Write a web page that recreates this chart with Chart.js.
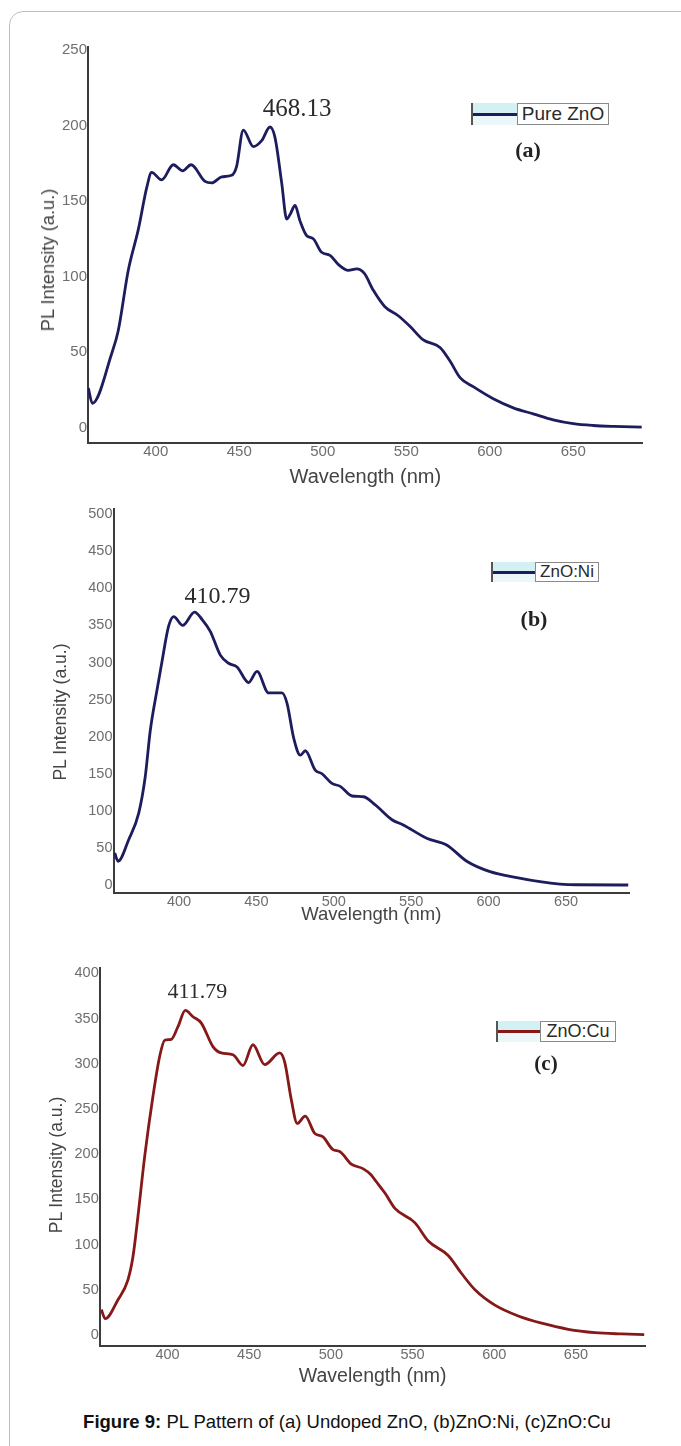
<!DOCTYPE html>
<html>
<head>
<meta http-equiv="Content-Type" content="text/html; charset=utf-8"/>
<title>PL Pattern of ZnO, ZnO:Ni, ZnO:Cu</title>
<script src="https://cdn.jsdelivr.net/npm/chart.js"></script>
<style>
	body { margin:0; width:681px; height:1446px; overflow:hidden; position:relative; background:#fff; font-family:"Liberation Sans", Arial, sans-serif; }
	#frame { position:absolute; left:9px; top:11px; width:740px; height:1500px; border:1px solid #bdbdbd; border-radius:14px; }
	canvas { position:absolute; left:0; }
	.legend { position:absolute; display:flex; }
	.legend .sample { position:relative; height:100%; box-sizing:border-box; border-left:2px solid #555; background:linear-gradient(#d3f0f3 0 46%, #ebf7f8 54% 100%); }
	.legend .sample i { position:absolute; left:0; right:0; top:50%; height:3px; margin-top:-1.5px; }
	.legend .box { height:100%; box-sizing:border-box; border:1px solid #8a8a8a; background:#fff; display:flex; align-items:center; justify-content:center; color:#2a2a2a; }
	.panel { position:absolute; transform:translate(-50%,-50%); font-family:"Liberation Serif", serif; font-weight:bold; color:#222; }
	.ytitle { position:absolute; transform:translate(-50%,-50%) rotate(-90deg); white-space:nowrap; color:#444; }
	#caption { position:absolute; left:347px; top:1422px; transform:translate(-50%,-50%); white-space:nowrap; font-size:18.5px; color:#111; }
</style>
</head>
<body>
	<div id="frame"></div>
	<canvas id="plA" width="681" height="495" style="top:0px"></canvas>
	<canvas id="plB" width="681" height="450" style="top:495px"></canvas>
	<canvas id="plC" width="681" height="450" style="top:945px"></canvas>

	<div class="ytitle" style="left:47.5px;top:260px;font-size:18.3px">PL Intensity (a.u.)</div>
	<div class="legend" style="left:471px;top:103px;height:22px">
		<div class="sample" style="width:46px"><i style="background:#1d1d5e"></i></div>
		<div class="box" style="width:92px;font-size:19px">Pure ZnO</div>
	</div>
	<div class="panel" style="left:528px;top:150px;font-size:22px">(a)</div>

	<div class="ytitle" style="left:60px;top:712px;font-size:17.6px">PL Intensity (a.u.)</div>
	<div class="legend" style="left:491px;top:562px;height:20px">
		<div class="sample" style="width:44px"><i style="background:#1d1d5e"></i></div>
		<div class="box" style="width:64px;font-size:17px">ZnO:Ni</div>
	</div>
	<div class="panel" style="left:534px;top:619px;font-size:22px">(b)</div>

	<div class="ytitle" style="left:56px;top:1165px;font-size:17.5px">PL Intensity (a.u.)</div>
	<div class="legend" style="left:496px;top:1021px;height:21px">
		<div class="sample" style="width:44px"><i style="background:#861818"></i></div>
		<div class="box" style="width:76px;font-size:18px">ZnO:Cu</div>
	</div>
	<div class="panel" style="left:546px;top:1063px;font-size:21px">(c)</div>

	<div id="caption"><b>Figure 9:</b> PL Pattern of (a) Undoped ZnO, (b)ZnO:Ni, (c)ZnO:Cu</div>

	<script>
	// tick labels
	const xTicks = [400, 450, 500, 550, 600, 650];
	const yTicksA = [0, 50, 100, 150, 200, 250];
	const yTicksB = [0, 50, 100, 150, 200, 250, 300, 350, 400, 450, 500];
	const yTicksC = [0, 50, 100, 150, 200, 250, 300, 350, 400];

	// (a) pure ZnO
	const wlA = [359.6, 362, 373.6, 377.5, 383.5, 389.5, 394.6, 397.5, 403.5, 410.5, 416.1, 421.1, 429.5, 433.5, 439.5, 445.4, 448.4, 452.4, 458.4, 463.4, 468.4, 471.4, 475.4, 478.4, 480.4, 483.4, 486.3, 490.4, 494.3, 499.3, 504.3, 509.3, 515.3, 520.3, 524.9, 530.2, 537.2, 545.2, 552.2, 560.2, 570.2, 576.2, 582.2, 590.1, 602.1, 614.1, 626, 638, 650, 662, 674, 691];
	const plA = [26, 16, 49, 64, 104, 131, 159, 169, 164, 174, 170, 174, 163, 162, 166, 167, 173, 197, 186, 190, 199, 192, 162, 138, 141, 147, 137, 127, 125, 116, 114, 108, 104, 105, 102, 91, 80, 74, 67, 58, 53, 44, 33, 27, 19, 13, 9, 5, 2.5, 1.3, 0.7, 0.2];

	// (b) ZnO:Ni
	const wlB = [358.5, 360.6, 367.5, 374, 378.2, 381.5, 385.8, 389, 393.3, 396.6, 402.4, 410.1, 414.9, 420.2, 426.7, 432.1, 437.5, 445, 450.4, 457.9, 466.5, 469.8, 474.1, 478.4, 481.6, 488, 492.4, 498.8, 504.2, 511.8, 519.3, 526.8, 537.6, 544.9, 560, 572.9, 585.9, 600.9, 618.2, 633.2, 646.1, 656.9, 690.2];
	const plB = [43, 32, 61, 97, 146, 209, 263, 301, 349, 362, 350, 368, 358, 342, 310, 299, 294, 273, 288, 259, 259, 245, 198, 175, 181, 155, 150, 137, 133, 120, 119, 108, 88, 81, 63, 54, 32, 18, 10, 4.5, 1.3, 0.3, 0];

	// (c) ZnO:Cu
	const wlC = [359.5, 361.9, 369.7, 375.8, 378.9, 381.9, 386, 391.1, 395.2, 398.3, 402.3, 406.4, 410.9, 415.6, 420.7, 427.8, 432.9, 440.1, 446.2, 452.3, 459.5, 468.7, 471.7, 475.8, 479.4, 484.3, 490.1, 495.2, 501.3, 505.4, 512.5, 519.6, 524.7, 527.6, 533.1, 539.2, 551.5, 559.6, 571.8, 580, 588.2, 600.4, 614.7, 629, 645.3, 661.6, 678, 691.8];
	const plC = [28, 18, 39, 61, 87, 131, 197, 264, 308, 326, 327, 341, 359, 352, 345, 319, 312, 310, 298, 321, 299, 312, 302, 260, 234, 242, 223, 219, 205, 203, 189, 184, 177, 170, 157, 140, 124, 104, 88, 68, 50, 33, 21, 13, 6.3, 2.6, 1.1, 0.3];

	// writes the peak wavelength next to the maximum
	const peakLabel = {
		id: 'peakLabel',
		afterDatasetsDraw(chart, args, o) {
			const ctx = chart.ctx;
			ctx.save();
			ctx.font = o.size + 'px "Liberation Serif", serif';
			ctx.fillStyle = '#2b2b2b';
			ctx.textAlign = 'center';
			ctx.textBaseline = 'middle';
			ctx.fillText(o.text, chart.scales.x.getPixelForValue(o.x) + o.dx, chart.scales.y.getPixelForValue(o.y) + o.dy);
			ctx.restore();
		}
	};

	function plChart(id, g) {
		return new Chart(document.getElementById(id), {
			type: 'line',
			data: {
				datasets: [{
					label: g.label,
					data: g.wl.map(function(w, i){ return {x: w, y: g.pl[i]}; }),
					borderColor: g.color,
					borderWidth: 2.8,
					pointRadius: 0,
					cubicInterpolationMode: 'monotone'
				}]
			},
			options: {
				responsive: false,
				animation: false,
				events: [],
				layout: { padding: { left: 0, top: g.top, right: 681 - g.right, bottom: 0 } },
				plugins: {
					legend: { display: false },
					tooltip: { enabled: false },
					peakLabel: g.peak
				},
				scales: {
					x: {
						type: 'linear', min: g.xMin, max: g.xMax,
						grid: { display: false, drawTicks: false },
						border: { display: true, color: '#3c3c3c', width: 2 },
						ticks: { padding: 0, autoSkip: false, color: '#6e6e6e', font: { size: g.tick } },
						afterBuildTicks: function(s){ s.ticks = xTicks.map(function(v){ return {value: v}; }); },
						afterFit: function(s){ s.height = g.h - g.bottom; },
						title: { display: true, text: 'Wavelength (nm)', color: '#444', font: { size: g.xt },
							padding: { top: 0, bottom: g.h - g.xTitleY - g.xt * 0.6 } }
					},
					y: {
						min: g.yMin, max: g.yMax,
						grid: { display: false, drawTicks: false },
						border: { display: true, color: '#3c3c3c', width: 2 },
						ticks: { padding: 1, color: '#6e6e6e', font: { size: g.tick } },
						afterBuildTicks: function(s){ s.ticks = g.yTicks.map(function(v){ return {value: v}; }); },
						afterFit: function(s){ s.width = g.left; }
					}
				}
			},
			plugins: [peakLabel]
		});
	}

	plChart('plA', {
		label: 'Pure ZnO', wl: wlA, pl: plA, color: '#1d1d5e', yTicks: yTicksA,
		h: 495, left: 88, top: 47, right: 642.7, bottom: 443,
		xMin: 359.4, xMax: 691.6, yMin: -10.3, yMax: 252,
		tick: 15, xt: 20, xTitleY: 477,
		peak: { text: '468.13', x: 468.4, y: 199, dx: 27, dy: -18, size: 25 }
	});
	plChart('plB', {
		label: 'ZnO:Ni', wl: wlB, pl: plB, color: '#1d1d5e', yTicks: yTicksB,
		h: 450, left: 113.5, top: 14, right: 629, bottom: 398.3,
		xMin: 357.7, xMax: 690.7, yMin: -11.2, yMax: 507,
		tick: 14.5, xt: 18.5, xTitleY: 420,
		peak: { text: '410.79', x: 410.1, y: 367.5, dx: 23, dy: -16, size: 24 }
	});
	plChart('plC', {
		label: 'ZnO:Cu', wl: wlC, pl: plC, color: '#861818', yTicks: yTicksC,
		h: 450, left: 99.7, top: 23, right: 645.7, bottom: 401,
		xMin: 358.5, xMax: 692.7, yMin: -12.2, yMax: 405.9,
		tick: 14.5, xt: 19.5, xTitleY: 432,
		peak: { text: '411.79', x: 410.9, y: 358.7, dx: 12, dy: -18, size: 22 }
	});
	</script>
</body>
</html>
